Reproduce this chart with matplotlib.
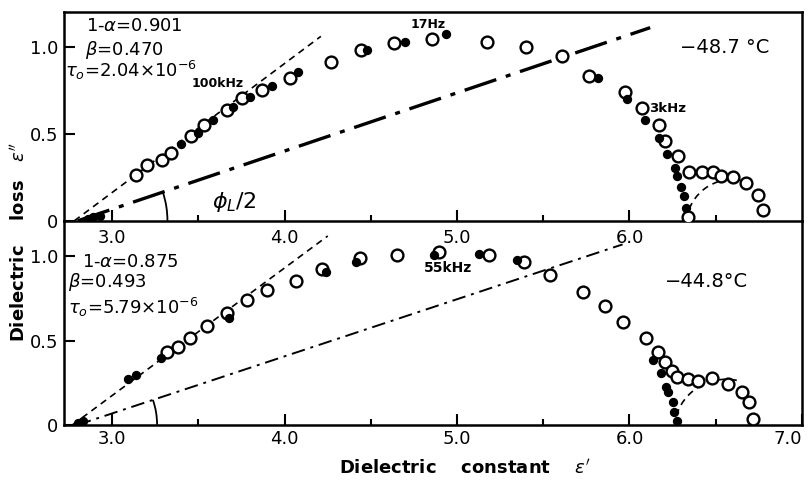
import numpy as np
import matplotlib
matplotlib.use("Agg")
import matplotlib.pyplot as plt
from matplotlib.patches import Arc

plt.rcParams['font.family'] = ['DejaVu Sans']
plt.rcParams['mathtext.fontset'] = 'dejavusans'

# ---- data ----
# upper panel, -48.7 C
top_open_x = [3.138, 3.203, 3.286, 3.343, 3.458, 3.534, 3.668, 3.755, 3.870, 4.030,
              4.268, 4.444, 4.632, 4.852, 5.176, 5.400, 5.610, 5.763, 5.973, 6.073,
              6.170, 6.207, 6.280, 6.346, 6.418, 6.485, 6.533, 6.600, 6.676, 6.743,
              6.772, 6.337]
top_open_y = [0.264, 0.322, 0.347, 0.389, 0.485, 0.552, 0.638, 0.705, 0.753, 0.820,
              0.915, 0.983, 1.020, 1.044, 1.027, 1.000, 0.948, 0.830, 0.743, 0.648,
              0.550, 0.461, 0.370, 0.283, 0.278, 0.280, 0.255, 0.249, 0.217, 0.149,
              0.063, 0.021]
top_fill_x = [2.86, 2.89, 2.93, 3.400, 3.496, 3.586, 3.700, 3.800, 3.927, 4.080,
              4.480, 4.697, 4.933, 5.820, 5.986, 6.090, 6.170, 6.217, 6.264, 6.274,
              6.300, 6.318, 6.326]
top_fill_y = [0.01, 0.02, 0.03, 0.443, 0.504, 0.580, 0.655, 0.710, 0.776, 0.858,
              0.979, 1.030, 1.075, 0.820, 0.700, 0.580, 0.475, 0.385, 0.303, 0.255,
              0.194, 0.140, 0.073]

# lower panel, -44.8 C
bot_open_x = [3.320, 3.380, 3.450, 3.547, 3.667, 3.780, 3.896, 4.064, 4.219, 4.438,
              4.650, 4.896, 5.186, 5.389, 5.540, 5.730, 5.857, 5.965, 6.095, 6.163,
              6.205, 6.244, 6.275, 6.340, 6.400, 6.476, 6.569, 6.650, 6.695, 6.714]
bot_open_y = [0.430, 0.463, 0.513, 0.586, 0.665, 0.740, 0.800, 0.852, 0.927, 0.992,
              1.010, 1.022, 1.006, 0.966, 0.890, 0.789, 0.706, 0.611, 0.513, 0.434,
              0.375, 0.320, 0.286, 0.272, 0.262, 0.276, 0.241, 0.193, 0.138, 0.036]
bot_fill_x = [2.80, 2.83, 3.093, 3.135, 3.280, 3.677, 4.240, 4.412, 4.867, 5.128,
              5.350, 6.134, 6.182, 6.211, 6.225, 6.250, 6.260, 6.275]
bot_fill_y = [0.01, 0.02, 0.270, 0.296, 0.395, 0.635, 0.907, 0.966, 1.010, 1.016,
              0.976, 0.385, 0.306, 0.227, 0.197, 0.138, 0.075, 0.020]

# construction lines (start, end)
top_dash = ([2.78, 4.21], [0.0, 1.06])
top_dashdot = ([2.80, 6.12], [0.0, 1.11])
bot_dash = ([2.77, 4.25], [0.0, 1.12])
bot_dashdot = ([2.80, 5.96], [0.0, 1.07])
# high-frequency arcs: centre x, centre y, radius
top_arc = (6.595, -0.03, 0.267)
bot_arc = (6.56, -0.03, 0.300)

fig = plt.figure(figsize=(8.1, 4.8), dpi=100)
ax1 = fig.add_axes([0.079, 0.540, 0.911, 0.435])
ax2 = fig.add_axes([0.079, 0.115, 0.911, 0.425])
ax2.patch.set_visible(False)

for ax, ylim in ((ax1, 1.20), (ax2, 1.21)):
    ax.set_xlim(2.72, 7.0)
    ax.set_ylim(0, ylim)
    ax.set_xticks([3, 4, 5, 6, 7] if ax is ax2 else [3, 4, 5, 6])
    ax.set_xticklabels(['3.0', '4.0', '5.0', '6.0', '7.0'] if ax is ax2 else ['3.0', '4.0', '5.0', '6.0'])
    ax.set_xticks([3.5, 4.5, 5.5, 6.5], minor=True)
    ax.set_yticks([0, 0.5, 1.0])
    ax.set_yticklabels(['0', '0.5', '1.0'])
    ax.tick_params(axis='both', which='major', direction='in', length=8, width=1.5,
                   labelsize=13, pad=4)
    ax.tick_params(axis='x', which='minor', direction='in', length=4, width=1.5)
    for s in ax.spines.values():
        s.set_linewidth(1.8)
ax1.tick_params(axis='x', pad=6)
ax2.spines['top'].set_visible(False)
ax2.get_xticklabels()[-1].set_horizontalalignment('right')

def panel(ax, ox, oy, fx, fy, dash, dashdot, dd_lw, dd_pat, arc, angle_r, params, temp, tpos):
    ax.plot(dash[0], dash[1], color='black', lw=1.2, dashes=(4, 3))
    ax.plot(dashdot[0], dashdot[1], color='black', lw=dd_lw, dashes=dd_pat)
    cx, cy, r = arc
    ax.add_patch(Arc((cx, cy), 2 * r, 2 * r, theta1=78, theta2=173,
                     color='black', lw=1.2, linestyle=(0, (4, 3))))
    ang = np.degrees(np.arctan2(dashdot[1][1] - dashdot[1][0], dashdot[0][1] - dashdot[0][0]))
    ax.add_patch(Arc((dashdot[0][0], 0), 2 * angle_r, 2 * angle_r, theta1=0, theta2=ang,
                     color='black', lw=1.3))
    ax.plot(ox, oy, 'o', ms=8.5, mfc='white', mec='black', mew=1.7, zorder=3)
    ax.plot(fx, fy, 'o', ms=5.5, mfc='black', mec='black', mew=1.2, zorder=4)
    for (tx, ty, s) in params:
        ax.text(tx, ty, s, transform=ax.transAxes, fontsize=13, ha='left', va='center')
    ax.text(tpos[0], tpos[1], temp, transform=ax.transAxes, fontsize=14,
            ha='left', va='center')

panel(ax1, top_open_x, top_open_y, top_fill_x, top_fill_y, top_dash, top_dashdot,
      2.4, (10, 3, 1.5, 3), top_arc, 0.52,
      [(0.030, 0.935, r'1-$\alpha$=0.901'), (0.028, 0.82, r'$\beta$=0.470'),
       (0.002, 0.72, r'$\tau_o$=2.04×10$^{-6}$')],
      '−48.7 °C', (0.835, 0.83))
panel(ax2, bot_open_x, bot_open_y, bot_fill_x, bot_fill_y, bot_dash, bot_dashdot,
      1.4, (7, 3, 1.5, 3), bot_arc, 0.46,
      [(0.025, 0.80, r'1-$\alpha$=0.875'), (0.005, 0.70, r'$\beta$=0.493'),
       (0.005, 0.575, r'$\tau_o$=5.79×10$^{-6}$')],
      '−44.8°C', (0.815, 0.70))

# frequency marks
ax1.text(3.61, 0.79, '100kHz', fontsize=9, fontweight='bold', ha='center', va='center')
ax1.text(4.83, 1.13, '17Hz', fontsize=9, fontweight='bold', ha='center', va='center')
ax1.text(6.115, 0.645, '3kHz', fontsize=9.5, fontweight='bold', ha='left', va='center')
ax2.text(4.95, 0.93, '55kHz', fontsize=10, fontweight='bold', ha='center', va='center')
ax1.text(3.58, 0.11, r'$\phi_L$/2', fontsize=16, ha='left', va='center')

fig.text(0.023, 0.495, "Dielectric    loss   $\\epsilon''$", rotation=90,
         fontsize=13, fontweight='bold', ha='center', va='center')
fig.text(0.574, 0.025, "Dielectric    constant    $\\epsilon'$",
         fontsize=13, fontweight='bold', ha='center', va='center')

fig.savefig('out.png', dpi=100)
